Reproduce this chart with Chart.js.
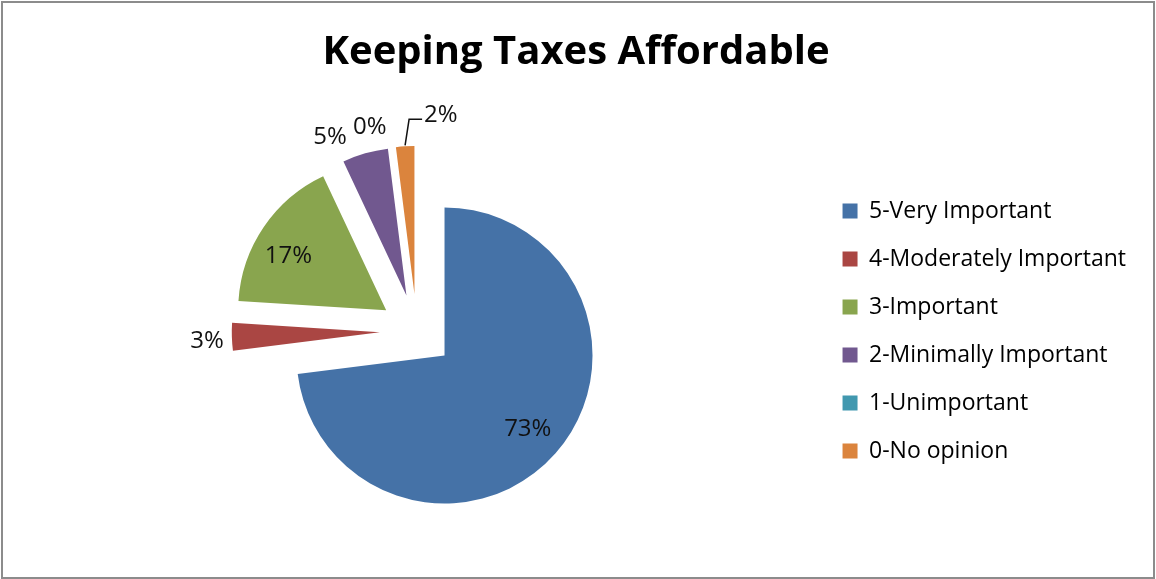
<!doctype html>
<html>

<head>
    <title>Keeping Taxes Affordable</title>
    <script src="https://cdn.jsdelivr.net/npm/chart.js@4.4.0/dist/chart.umd.min.js"></script>
    <style>
    body {
        margin: 0;
        background: #fff;
        font-family: "Open Sans", sans-serif;
    }
    #canvas-holder {
        position: absolute;
        left: 0;
        top: 0;
        width: 1156px;
        height: 579px;
    }
    #frame {
        position: absolute;
        left: 1px;
        top: 1px;
        width: 1150px;
        height: 574px;
        border: 2px solid #8c8c8c;
        pointer-events: none;
    }
    </style>
</head>

<body>
    <div id="canvas-holder">
        <canvas id="chart-area"></canvas>
    </div>
    <div id="frame"></div>
    <script>
    var categories = ["5-Very Important", "4-Moderately Important", "3-Important", "2-Minimally Important", "1-Unimportant", "0-No opinion"];
    var percentages = [73, 3, 17, 5, 0, 2];
    var sliceColors = ["#4572A7", "#AA4643", "#89A54E", "#71588F", "#4198AF", "#DB843D"];

    var PIE_RADIUS = 148;
    var EXPLODE = 37; // how far every slice is pulled away from the centre

    // chart.js grows exploded arcs and trims their angle by a size-dependent
    // amount; undo both so every slice keeps its full wedge and radius
    var evenExplode = {
        id: 'evenExplode',
        afterDatasetsUpdate: function(chart) {
            chart.getDatasetMeta(0).data.forEach(function(arc) {
                if (!arc.circumference) return;
                var shift = (arc.options.offset || 0) / 4;
                var grow = shift * (1 - Math.sin(Math.min(Math.PI, arc.circumference)));
                var trim = grow / Math.PI / PIE_RADIUS / 2;
                arc.outerRadius = PIE_RADIUS - grow;
                arc.startAngle -= trim;
                arc.endAngle += trim;
            });
        }
    };

    // percentage labels, inside the big slices and outside the small ones
    var pieLabels = {
        id: 'pieLabels',
        afterDatasetsDraw: function(chart, args, opts) {
            var ctx = chart.ctx;
            var meta = chart.getDatasetMeta(0);
            ctx.save();
            ctx.font = opts.font;
            ctx.fillStyle = opts.color;
            ctx.strokeStyle = opts.color;
            ctx.lineWidth = 1.5;
            ctx.textBaseline = 'middle';
            meta.data.forEach(function(arc, i) {
                var mid = (arc.startAngle + arc.endAngle) / 2;
                var shift = (arc.options.offset || 0) / 4;
                var cos = Math.cos(mid), sin = Math.sin(mid);
                var cx = arc.x + cos * shift, cy = arc.y + sin * shift;
                var text = percentages[i] + '%';
                var place = opts.placement[i];
                var dx = place.dx || 0, dy = place.dy || 0;
                if (place.inside) {
                    ctx.textAlign = 'center';
                    ctx.fillText(text, cx + cos * PIE_RADIUS * 0.75 + dx, cy + sin * PIE_RADIUS * 0.75 + dy);
                } else if (place.leader) {
                    var x0 = cx + cos * (PIE_RADIUS + 1), y0 = cy + sin * (PIE_RADIUS + 1);
                    var x1 = x0 + place.leader[0], y1 = y0 + place.leader[1];
                    var x2 = x1 + place.leader[2];
                    ctx.beginPath();
                    ctx.moveTo(x0, y0);
                    ctx.lineTo(x1, y1);
                    ctx.lineTo(x2, y1);
                    ctx.stroke();
                    ctx.textAlign = 'left';
                    ctx.fillText(text, x2 + 2, y1 - 4);
                } else {
                    ctx.textAlign = cos < 0 ? 'right' : 'left';
                    ctx.fillText(text, cx + cos * (PIE_RADIUS + 8) + dx, cy + sin * (PIE_RADIUS + 8) + dy);
                }
            });
            ctx.restore();
        }
    };

    Chart.defaults.font.family = '"Open Sans"';

    var config = {
        type: 'pie',
        data: {
            labels: categories,
            datasets: [{
                data: percentages,
                backgroundColor: sliceColors,
                borderWidth: 0,
                offset: EXPLODE * 4
            }]
        },
        options: {
            responsive: true,
            maintainAspectRatio: false,
            animation: false,
            radius: PIE_RADIUS,
            layout: {
                padding: { left: 16, right: 20, top: 0, bottom: 0 }
            },
            plugins: {
                title: {
                    display: true,
                    text: 'Keeping Taxes Affordable',
                    color: '#000',
                    font: { size: 40, weight: 'bold', lineHeight: 1.2 },
                    padding: { top: 29, bottom: 6 }
                },
                legend: {
                    position: 'right',
                    fullSize: false,
                    labels: {
                        boxWidth: 15,
                        boxHeight: 15,
                        padding: 25,
                        color: '#000',
                        font: { size: 23 }
                    }
                },
                tooltip: { enabled: false },
                pieLabels: {
                    font: '24px "Open Sans"',
                    color: '#111',
                    placement: [
                        { inside: true },
                        { dy: 4 },
                        { inside: true, dx: -6, dy: 8 },
                        { dx: -16, dy: -9 },
                        { dx: -6, dy: -12 },
                        { leader: [4, -26, 13] }
                    ]
                }
            }
        },
        plugins: [evenExplode, pieLabels]
    };

    window.onload = function() {
        var ctx = document.getElementById("chart-area").getContext("2d");
        window.myPie = new Chart(ctx, config);
    };
    </script>
</body>

</html>
